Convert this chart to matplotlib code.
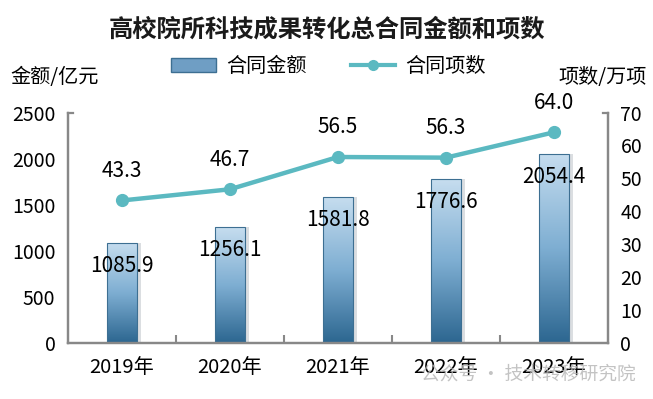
import numpy as np
import matplotlib
matplotlib.use("Agg")
import matplotlib.pyplot as plt
from matplotlib.colors import LinearSegmentedColormap
from matplotlib.lines import Line2D
from matplotlib.patches import Patch

plt.rcParams['font.family'] = ['Noto Sans CJK SC', 'DejaVu Sans']

years = ["2019年", "2020年", "2021年", "2022年", "2023年"]
amount = [1085.9, 1256.1, 1581.8, 1776.6, 2054.4]   # 亿元
counts = [43.3, 46.7, 56.5, 56.3, 64.0]             # 万项

fig = plt.figure(figsize=(6.53, 3.99), dpi=100)
ax = fig.add_axes([0.104, 0.140, 0.827, 0.578])
ax2 = ax.twinx()

x = np.arange(len(years))
bar_w = 0.28

# shadow behind the bars
ax.bar(x + 0.035, amount, width=bar_w, color="#9aa3ab", alpha=0.35, zorder=1)
bars = ax.bar(x, amount, width=bar_w, color="none", edgecolor="#3d6f92",
              linewidth=0.8, zorder=3)

# vertical gradient inside each bar
grad_cmap = LinearSegmentedColormap.from_list("barg", ["#2c6690", "#7eaed2", "#c6ddef"])
grad = np.linspace(0, 1, 256).reshape(-1, 1)
for b in bars:
    x0, y0 = b.get_x(), b.get_y()
    im = ax.imshow(grad, cmap=grad_cmap, origin="lower", aspect="auto",
                   extent=[x0, x0 + b.get_width(), y0, y0 + b.get_height()],
                   zorder=2)
    im.set_clip_path(b)

ax.set_xlim(-0.5, len(years) - 0.5)
ax.set_ylim(0, 2500)
ax.set_yticks(range(0, 2501, 500))
ax2.set_ylim(0, 70)
ax2.set_yticks(range(0, 71, 10))

ax.set_xticks(x)
ax.set_xticklabels(years, fontsize=14.5)
ax.set_xticks(x[:-1] + 0.5, minor=True)
ax.tick_params(axis="x", which="major", length=0, pad=10)
ax.tick_params(axis="x", which="minor", direction="in", length=6, width=1.5, color="#888888")
ax.tick_params(axis="y", length=0, labelsize=14, pad=9)
ax2.tick_params(axis="y", length=0, labelsize=14, pad=9)

for a in (ax, ax2):
    for s in a.spines.values():
        s.set_color("#888888")
        s.set_linewidth(1.6)
    a.spines["top"].set_visible(False)
# small caps at the top of both y axes
ax.plot([-0.5, -0.45], [2500, 2500], color="#888888", lw=1.6, clip_on=False, zorder=5)
ax.plot([4.45, 4.5], [2500, 2500], color="#888888", lw=1.6, clip_on=False, zorder=5)

line_color = "#5bb9c1"
ax2.plot(x, counts, color=line_color, lw=3.2, marker="o", markersize=8.5, zorder=4)
ax.set_zorder(ax2.get_zorder() - 1)
ax2.patch.set_visible(False)

for xi, v in zip(x, amount):
    ax.text(xi, v - 250, f"{v:.1f}", ha="center", va="center", fontsize=15, zorder=6)
for xi, v in zip(x, counts):
    ax2.text(xi, v + 9, f"{v:.1f}", ha="center", va="center", fontsize=15)

fig.text(0.5, 0.925, "高校院所科技成果转化总合同金额和项数", ha="center", va="center",
         fontsize=17.5, fontweight="bold", color="#1a1a1a")
fig.text(0.016, 0.805, "金额/亿元", ha="left", va="center", fontsize=14.5)
fig.text(0.991, 0.805, "项数/万项", ha="right", va="center", fontsize=14.5)

handles = [Patch(facecolor="#6f9ec4", edgecolor="#3d6f92"),
           Line2D([0], [0], color=line_color, lw=3, marker="o", markersize=7)]
fig.legend(handles, ["合同金额", "合同项数"], loc="center", bbox_to_anchor=(0.503, 0.833),
           ncol=2, frameon=False, fontsize=14.5, handlelength=2.2, handletextpad=0.5,
           columnspacing=2.2)

# watermark
fig.text(0.973, 0.062, "公众号 · 技术转移研究院", ha="right", va="center",
         fontsize=13.5, color="#b5b5b5", alpha=0.8, zorder=0)

fig.savefig("out.png", dpi=100)
